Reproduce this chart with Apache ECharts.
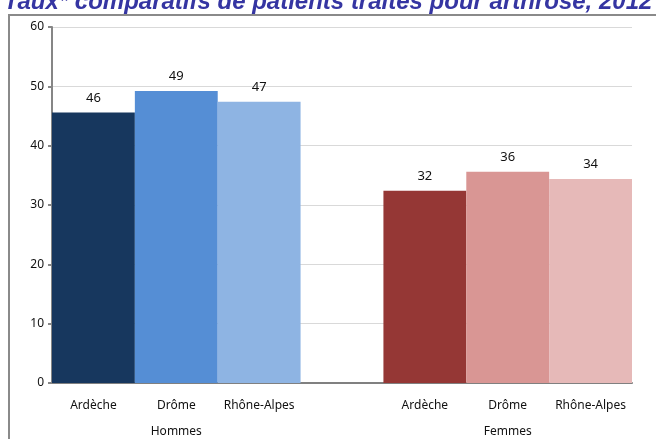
<!DOCTYPE html>
<html>
<head>
<meta charset="utf-8">
<script src="https://cdn.jsdelivr.net/npm/echarts@6/dist/echarts.min.js"></script>
<style>
  html, body { margin: 0; padding: 0; background: #fff; }
  #chart { width: 656px; height: 439px; }
</style>
</head>
<body>
<div id="chart"></div>
<script>
// categories (one empty slot between the two groups)
var categories = ['Ardèche', 'Drôme', 'Rhône-Alpes', '', 'Ardèche', 'Drôme', 'Rhône-Alpes'];
var groupLabels = ['', 'Hommes', '', '', '', 'Femmes', ''];
var values = [45.6, 49.2, 47.4, null, 32.4, 35.6, 34.4];
var barColors = ['#17375e', '#558ed5', '#8eb4e3', '#ffffff', '#953735', '#d99694', '#e6b9b8'];
var yTicks = [0, 10, 20, 30, 40, 50, 60];

var myChart = echarts.init(document.getElementById('chart'));

var seriesData = values.map(function (v, i) {
  return { value: v, itemStyle: { color: barColors[i] } };
});

var option = {
  animation: false,
  textStyle: { fontFamily: 'Noto Sans' },
  title: {
    text: 'Taux* comparatifs de patients traités pour arthrose, 2012',
    left: 'center',
    top: -15,
    textStyle: {
      fontFamily: 'Liberation Sans',
      fontSize: 24,
      fontWeight: 'bold',
      fontStyle: 'italic',
      color: '#3535a2'
    }
  },
  graphic: [{
    type: 'rect',
    left: 8,
    top: 14,
    shape: { width: 700, height: 500 },
    style: { fill: '#fff', stroke: '#8a8a8a', lineWidth: 2 },
    silent: true,
    z: -10
  }],
  grid: { left: 52, right: 24, top: 27, bottom: 56 },
  xAxis: [{
    type: 'category',
    data: categories,
    axisLine: { lineStyle: { color: '#808080', width: 2 } },
    axisTick: { show: false },
    axisLabel: { color: '#111', fontSize: 12, margin: 17, interval: 0 }
  }, {
    type: 'category',
    position: 'bottom',
    offset: 26,
    data: groupLabels,
    axisLine: { show: false },
    axisTick: { show: false },
    axisLabel: { color: '#111', fontSize: 12, margin: 17, interval: 0 }
  }],
  yAxis: {
    type: 'value',
    min: yTicks[0],
    max: yTicks[yTicks.length - 1],
    interval: 10,
    axisLine: { show: true, lineStyle: { color: '#868686', width: 2 } },
    axisTick: { show: true, length: 4, lineStyle: { color: '#868686', width: 2 } },
    axisLabel: { color: '#111', fontSize: 12, margin: 8 },
    splitLine: { lineStyle: { color: '#d9d9d9', width: 1 } }
  },
  series: [{
    type: 'bar',
    data: seriesData,
    barCategoryGap: 0,
    label: {
      show: true,
      position: 'top',
      distance: 8,
      color: '#111',
      fontSize: 13,
      formatter: function (p) { return p.value == null ? '' : Math.round(p.value); }
    }
  }]
};

myChart.setOption(option);
</script>
</body>
</html>
